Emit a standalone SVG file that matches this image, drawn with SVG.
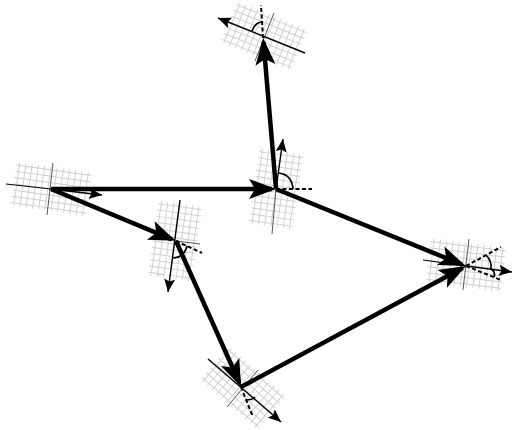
<svg xmlns="http://www.w3.org/2000/svg" width="512" height="430" viewBox="0 0 512 430">
<style>
.grid{fill:none;stroke:#cfcfcf;stroke-width:.9}
.thin{fill:none;stroke:#000;stroke-width:1.2}
.cross{fill:none;stroke:#555;stroke-width:1}
.dash{fill:none;stroke:#000;stroke-width:2;stroke-dasharray:4 2.5}
.arc{fill:none;stroke:#000;stroke-width:1.7}
.vec{fill:none;stroke:#000;stroke-width:1.4;marker-end:url(#small)}
.edge{fill:none;stroke:#000;stroke-width:4.500;marker-end:url(#big)}
</style>
<defs>
<marker id="big" markerUnits="userSpaceOnUse" markerWidth="30" markerHeight="24" refX="23" refY="12" orient="auto"><path d="M0,2 L27,12 L0,22 L6,12 Z" fill="#000"/></marker>
<marker id="small" markerUnits="userSpaceOnUse" markerWidth="14" markerHeight="12" refX="13" refY="6" orient="auto"><path d="M0,.5 L13,6 L0,11.500 L2.500,6 Z" fill="#000"/></marker>
<path id="g" d="M-33,-21V21M-27,-21V21M-21,-21V21M-15,-21V21M-9,-21V21M-3,-21V21M3,-21V21M9,-21V21M15,-21V21M21,-21V21M27,-21V21M33,-21V21M-36,-18H36M-36,-12H36M-36,-6H36M-36,0H36M-36,6H36M-36,12H36M-36,18H36"/>
</defs>
<g id="node-top">
<use href="#g" class="grid" transform="translate(264,36) rotate(22) scale(1.05)"/>
<path class="cross" d="M274,13L255,61"/>
<path class="vec" d="M305,53L218,18"/>
<path class="dash" d="M263,38L261,5"/>
<path class="arc" d="M252,31Q255,22 263,22"/>
</g>
<g id="node-center">
<use href="#g" class="grid" transform="translate(276,189) rotate(-82) scale(1.05)"/>
<path class="cross" d="M272,234L276,189"/>
<path class="vec" d="M276,189L283,139"/>
<path class="dash" d="M276,189H312"/>
<path class="arc" d="M279,173Q292,175 293,189"/>
</g>
<g id="node-left">
<use href="#g" class="grid" transform="translate(51,189) rotate(8) scale(1.05)"/>
<path class="cross" d="M53,163L47,215"/>
<path class="thin" d="M6,184L51,189"/>
<path class="vec" d="M51,189L102,195"/>
</g>
<g id="node-mid">
<use href="#g" class="grid" transform="translate(175,241) rotate(-82) scale(1.05)"/>
<path class="cross" d="M176,241L200,244"/>
<path class="vec" d="M180,200L168,292"/>
<path class="dash" d="M176,241L202,253"/>
<path class="arc" d="M172,258Q184,258 187,246"/>
</g>
<g id="node-right">
<use href="#g" class="grid" transform="translate(466,265) rotate(7) scale(1.05)"/>
<path class="cross" d="M469,239L463,290"/>
<path class="thin" d="M423,260L466,266"/>
<path class="vec" d="M466,266L512,272"/>
<path class="dash" d="M466,266L501,247"/>
<path class="dash" d="M466,266L501,280"/>
<path class="arc" d="M486,255Q492,261 491,269"/>
<path class="arc" d="M491,269Q496,272 494,277"/>
</g>
<g id="node-bottom">
<use href="#g" class="grid" transform="translate(243,388) rotate(41) scale(1.05)"/>
<path class="cross" d="M258,370L227,407"/>
<path class="vec" d="M208,359L281,422"/>
<path class="dash" d="M241,387L253,417"/>
<path class="arc" d="M246,400Q252,400 255,397"/>
</g>
<g id="connectors">
<path class="edge" d="M51,189H272"/>
<path class="edge" d="M51,189L172,239.300"/>
<path class="edge" d="M176,241L239.500,383"/>
<path class="edge" d="M276,189L263.500,42"/>
<path class="edge" d="M276,189L462,264.500"/>
<path class="edge" d="M241,387L462.500,268"/>
</g>
</svg>
